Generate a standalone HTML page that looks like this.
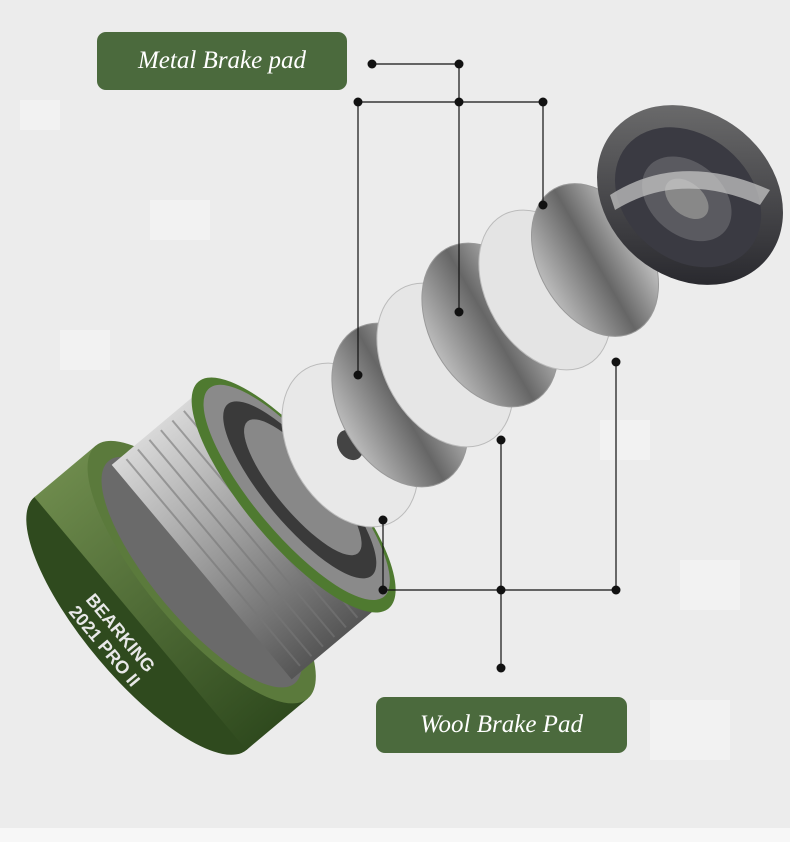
<!DOCTYPE html>
<html><head><meta charset="utf-8"><style>
html,body{margin:0;padding:0}
body{width:790px;height:842px;overflow:hidden;background:#ececec;position:relative;font-family:"Liberation Serif",serif}
.lbl{position:absolute;background:#4b6a3d;color:#fff;border-radius:9px;font-style:italic;font-size:25px;display:flex;align-items:center;justify-content:center}
svg{position:absolute;left:0;top:0}
</style></head><body>
<svg width="790" height="842" viewBox="0 0 790 842">
<defs>
<linearGradient id="g1" x1="0" y1="0" x2="0" y2="1"><stop offset="0" stop-color="#6d8a4c"/><stop offset="1" stop-color="#2f4a1e"/></linearGradient>
<linearGradient id="m1" x1="0" y1="0" x2="1" y2="0"><stop offset="0" stop-color="#bbb"/><stop offset=".5" stop-color="#666"/><stop offset="1" stop-color="#ccc"/></linearGradient>
<linearGradient id="m2" x1="0" y1="0" x2="0" y2="1"><stop offset="0" stop-color="#d8d8d8"/><stop offset=".5" stop-color="#999"/><stop offset="1" stop-color="#555"/></linearGradient>
<linearGradient id="cap" x1="0" y1="0" x2="1" y2="1"><stop offset="0" stop-color="#777"/><stop offset="1" stop-color="#1c1c22"/></linearGradient>
</defs>
<rect x="0" y="828" width="790" height="14" fill="#f7f7f7"/>
<g opacity=".35" fill="#fff">
<rect x="20" y="100" width="40" height="30"/><rect x="600" y="420" width="50" height="40"/><rect x="680" y="560" width="60" height="50"/><rect x="150" y="200" width="60" height="40"/><rect x="60" y="330" width="50" height="40"/><rect x="650" y="700" width="80" height="60"/>
</g>
<!-- spool: axis along local +x, rotated -40 -->
<g transform="rotate(-40 240 540)">
<ellipse cx="110" cy="540" rx="55" ry="165" fill="#2f4a1e"/>
<rect x="110" y="375" width="80" height="330" fill="url(#g1)"/>
<ellipse cx="190" cy="540" rx="55" ry="165" fill="#5b7a3c"/>
<ellipse cx="190" cy="540" rx="48" ry="145" fill="#6a6a6a"/>
<rect x="190" y="400" width="120" height="280" fill="url(#m2)"/>
<g stroke="#777" stroke-width="2" opacity=".6">
<line x1="205" y1="405" x2="205" y2="675"/><line x1="220" y1="405" x2="220" y2="675"/><line x1="235" y1="405" x2="235" y2="675"/><line x1="250" y1="405" x2="250" y2="675"/><line x1="265" y1="405" x2="265" y2="675"/><line x1="280" y1="405" x2="280" y2="675"/>
</g>
<ellipse cx="310" cy="540" rx="48" ry="148" fill="#4f7a30"/>
<ellipse cx="314" cy="540" rx="42" ry="136" fill="#8a8a8a"/>
<ellipse cx="318" cy="540" rx="34" ry="112" fill="#3a3a3a"/>
<ellipse cx="322" cy="540" rx="26" ry="86" fill="#888"/>
</g>
<text x="85" y="600" transform="rotate(50 85 600)" font-family="Liberation Sans" font-weight="bold" font-size="18" fill="#e8e8e8">BEARKING</text>
<text x="68" y="612" transform="rotate(50 68 612)" font-family="Liberation Sans" font-weight="bold" font-size="18" fill="#e8e8e8">2021 PRO II</text>
<!-- discs -->
<g transform="rotate(-30 350 445)"><ellipse cx="350" cy="445" rx="60" ry="88" fill="#e8e8e8" stroke="#bbb"/><ellipse cx="350" cy="445" rx="12" ry="16" fill="#444"/></g>
<g transform="rotate(-30 400 405)"><ellipse cx="400" cy="405" rx="60" ry="88" fill="url(#m1)" stroke="#999"/></g>
<g transform="rotate(-30 445 365)"><ellipse cx="445" cy="365" rx="60" ry="88" fill="#e6e6e6" stroke="#bbb"/></g>
<g transform="rotate(-30 490 325)"><ellipse cx="490" cy="325" rx="60" ry="88" fill="url(#m1)" stroke="#999"/></g>
<g transform="rotate(-30 545 290)"><ellipse cx="545" cy="290" rx="58" ry="86" fill="#e4e4e4" stroke="#bbb"/></g>
<g transform="rotate(-30 595 260)"><ellipse cx="595" cy="260" rx="56" ry="82" fill="url(#m1)" stroke="#999"/></g>
<!-- cap -->
<g transform="rotate(40 690 195)"><ellipse cx="690" cy="195" rx="100" ry="82" fill="url(#cap)"/><ellipse cx="690" cy="198" rx="80" ry="62" fill="#3a3a42"/><ellipse cx="690" cy="200" rx="50" ry="36" fill="#5a5a60"/><ellipse cx="690" cy="200" rx="25" ry="16" fill="#888"/></g>
<path d="M610 195 Q680 150 770 190 L760 205 Q680 170 615 210Z" fill="#ccc" opacity=".7"/>
<!-- lines -->
<g stroke="#111" stroke-width="1.2" fill="none">
<path d="M372 64H459V312M358 102H543M358 102V375M543 102V205"/>
<path d="M383 520V590H616V362M501 440V668"/>
</g>
<g fill="#111">
<circle cx="372" cy="64" r="4.5"/><circle cx="459" cy="64" r="4.5"/><circle cx="459" cy="312" r="4.5"/>
<circle cx="358" cy="102" r="4.5"/><circle cx="459" cy="102" r="4.5"/><circle cx="543" cy="102" r="4.5"/>
<circle cx="358" cy="375" r="4.5"/><circle cx="543" cy="205" r="4.5"/>
<circle cx="383" cy="520" r="4.5"/><circle cx="383" cy="590" r="4.5"/><circle cx="501" cy="590" r="4.5"/><circle cx="616" cy="590" r="4.5"/>
<circle cx="616" cy="362" r="4.5"/><circle cx="501" cy="440" r="4.5"/><circle cx="501" cy="668" r="4.5"/>
</g>
</svg>
<div class="lbl" style="left:97px;top:32px;width:250px;height:58px">Metal Brake pad</div>
<div class="lbl" style="left:376px;top:697px;width:251px;height:56px">Wool Brake Pad</div>
</body></html>
